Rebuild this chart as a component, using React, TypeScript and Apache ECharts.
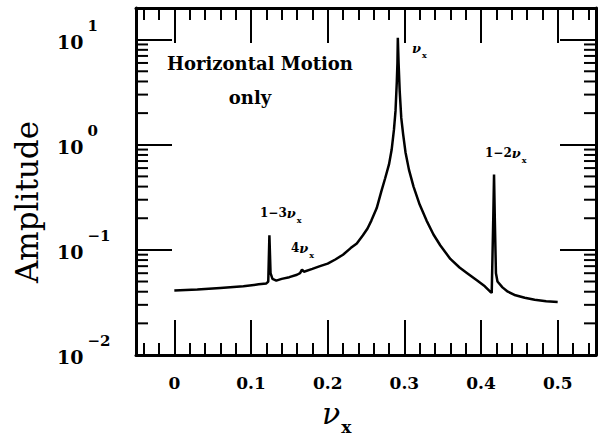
import React, { useEffect, useRef } from "react";
import * as echarts from "echarts";

// ---- data ----
const NU_X: number[] = [
  0.0, 0.03, 0.06, 0.09, 0.11, 0.12, 0.1225, 0.124, 0.1255, 0.128, 0.133,
  0.14, 0.15, 0.16, 0.164, 0.1665, 0.169, 0.18, 0.19, 0.2, 0.21, 0.22, 0.23,
  0.238, 0.246, 0.252, 0.257, 0.264, 0.27, 0.275, 0.28, 0.2835, 0.2865,
  0.2885, 0.2902, 0.291, 0.2915, 0.2925, 0.294, 0.296, 0.2985, 0.3015, 0.306,
  0.312, 0.32, 0.329, 0.338, 0.347, 0.36, 0.372, 0.382, 0.395, 0.405, 0.412,
  0.414, 0.416, 0.417, 0.418, 0.4195, 0.4215, 0.428, 0.435, 0.445, 0.457,
  0.47, 0.485, 0.5,
];
const AMPLITUDE: number[] = [
  0.041, 0.042, 0.0435, 0.045, 0.047, 0.048, 0.05, 0.138, 0.06, 0.053, 0.051,
  0.053, 0.055, 0.058, 0.06, 0.065, 0.062, 0.066, 0.07, 0.074, 0.081, 0.09,
  0.104, 0.115, 0.138, 0.16, 0.19, 0.25, 0.36, 0.48, 0.65, 0.9, 1.4, 2.1, 4.0,
  6.0, 10.4, 6.0, 3.2, 1.8, 1.25, 0.85, 0.58, 0.4, 0.27, 0.19, 0.14, 0.11,
  0.082, 0.068, 0.06, 0.051, 0.045, 0.04, 0.039, 0.2, 0.52, 0.2, 0.06, 0.05,
  0.044, 0.04, 0.037, 0.035, 0.0335, 0.0325, 0.032,
];

// axis ranges and tick definitions
const X_MIN = -0.05;
const X_MAX = 0.55;
const Y_MIN = 0.01;
const Y_MAX = 20;
const LOG_DECADES: number[] = [0.01, 0.1, 1, 10];
const LOG_MINOR_MULTIPLIERS: number[] = [2, 3, 4, 5, 6, 7, 8, 9];

// annotations
const PANEL_TITLE = "Horizontal Motion";
const PANEL_SUBTITLE = "only";
const Y_TITLE = "Amplitude";

const FONT = "DejaVu Serif";

// layout
const GRID = { left: 136, right: 3, top: 8, bottom: 92 };
const CHART_W = 599;
const CHART_H = 447;
const MINOR_TICK_PX = 12;

export default function App() {
  const ref = useRef<HTMLDivElement | null>(null);

  useEffect(() => {
    document.body.style.margin = "0";
    if (!ref.current) return;
    const chart = echarts.init(ref.current, undefined, { renderer: "svg" });

    const lineData = NU_X.map((x, i) => [x, AMPLITUDE[i]]);

    const minorValues: number[] = [];
    LOG_DECADES.forEach((d) =>
      LOG_MINOR_MULTIPLIERS.forEach((m) => {
        const v = d * m;
        if (v < Y_MAX) minorValues.push(v);
      })
    );
    // tick length expressed in x-data units
    const plotW = CHART_W - GRID.left - GRID.right;
    const dx = (MINOR_TICK_PX / plotW) * (X_MAX - X_MIN);

    const tickStyle = { color: "#000", width: 2 };
    const axisLineStyle = { color: "#000", width: 3 };

    const minorTickSeries: any[] = [];
    minorValues.forEach((v) => {
      minorTickSeries.push({
        type: "line",
        data: [[X_MIN, v], [X_MIN + dx, v]],
        symbol: "none",
        showSymbol: false,
        silent: true,
        lineStyle: { color: "#000", width: 2 },
      });
      minorTickSeries.push({
        type: "line",
        data: [[X_MAX - dx, v], [X_MAX, v]],
        symbol: "none",
        showSymbol: false,
        silent: true,
        lineStyle: { color: "#000", width: 2 },
      });
    });

    const smallRich = {
      n: { fontFamily: FONT, fontSize: 12, fontWeight: "bold", fill: "#000", lineHeight: 14, padding: [0, 0, 4, 0] },
      v: { fontFamily: FONT, fontSize: 13, fontWeight: "bold", fontStyle: "italic", fill: "#000", lineHeight: 14, padding: [0, 0, 4, 0] },
      s: { fontFamily: FONT, fontSize: 8, fontWeight: "bold", fill: "#000", lineHeight: 8, padding: [10, 0, 0, 1] },
    };

    const option: any = {
      animation: false,
      grid: { ...GRID },
      xAxis: [
        {
          type: "value",
          position: "bottom",
          min: X_MIN,
          max: X_MAX,
          axisLine: { onZero: false, lineStyle: axisLineStyle },
          axisTick: { inside: true, length: 35, lineStyle: tickStyle },
          minorTick: { show: true, splitNumber: 5, length: 12, lineStyle: tickStyle },
          splitLine: { show: false },
          minorSplitLine: { show: false },
          axisLabel: {
            margin: 18,
            fontFamily: FONT,
            fontSize: 17,
            fontWeight: "bold",
            color: "#000",
            lineHeight: 20,
            formatter: (v: number) =>
              Math.abs(v * 10 - Math.round(v * 10)) < 1e-6 ? String(Math.round(v * 10) / 10) : "",
          },
        },
        {
          type: "value",
          position: "top",
          min: X_MIN,
          max: X_MAX,
          axisLine: { onZero: false, lineStyle: axisLineStyle },
          axisTick: { inside: true, length: 35, lineStyle: tickStyle },
          minorTick: { show: true, splitNumber: 5, length: 12, lineStyle: tickStyle },
          splitLine: { show: false },
          minorSplitLine: { show: false },
          axisLabel: { show: false },
        },
      ],
      yAxis: [
        {
          type: "log",
          position: "left",
          min: Y_MIN,
          max: Y_MAX,
          axisLine: { onZero: false, lineStyle: axisLineStyle },
          axisTick: { inside: true, length: 36, lineStyle: tickStyle },
          splitLine: { show: false },
          axisLabel: {
            align: "left",
            margin: 79,
            formatter: (v: number) => {
              const e = Math.log10(v);
              const r = Math.round(e);
              if (Math.abs(e - r) > 1e-6) return "";
              return `{b|10}{s|${r < 0 ? "\u2212" + -r : r}}`;
            },
            rich: {
              b: { fontFamily: FONT, fontSize: 19, fontWeight: "bold", color: "#000", lineHeight: 20, padding: [10, 0, 6, 0] },
              s: { fontFamily: FONT, fontSize: 15, fontWeight: "bold", color: "#000", lineHeight: 8, padding: [0, 0, 28, 4] },
            },
          },
        },
        {
          type: "log",
          position: "right",
          min: Y_MIN,
          max: Y_MAX,
          axisLine: { onZero: false, lineStyle: axisLineStyle },
          axisTick: { inside: true, length: 36, lineStyle: tickStyle },
          splitLine: { show: false },
          axisLabel: { show: false },
        },
      ],
      series: [
        {
          type: "line",
          data: lineData,
          showSymbol: false,
          symbol: "none",
          lineStyle: { color: "#000", width: 2.5 },
        },
        ...minorTickSeries,
      ],
      graphic: [
        {
          type: "text",
          x: 167,
          y: 63,
          style: { text: PANEL_TITLE, fontFamily: FONT, fontSize: 18, fontWeight: "bold", fill: "#000", verticalAlign: "middle", align: "left" },
        },
        {
          type: "text",
          x: 250,
          y: 97,
          style: { text: PANEL_SUBTITLE, fontFamily: FONT, fontSize: 18, fontWeight: "bold", fill: "#000", verticalAlign: "middle", align: "center" },
        },
        {
          type: "text",
          x: 412,
          y: 43,
          style: { text: "{v|ν}{s|x}", rich: smallRich, verticalAlign: "top", align: "left" },
        },
        {
          type: "text",
          x: 260,
          y: 208,
          style: { text: "{n|1\u22123}{v|ν}{s|x}", rich: smallRich, verticalAlign: "top", align: "left" },
        },
        {
          type: "text",
          x: 291,
          y: 243,
          style: { text: "{n|4}{v|ν}{s|x}", rich: smallRich, verticalAlign: "top", align: "left" },
        },
        {
          type: "text",
          x: 485,
          y: 148,
          style: { text: "{n|1\u22122}{v|ν}{s|x}", rich: smallRich, verticalAlign: "top", align: "left" },
        },
        {
          type: "text",
          x: 322,
          y: 403,
          style: {
            text: "{v|ν}{s|x}",
            verticalAlign: "top",
            align: "left",
            rich: {
              v: { fontFamily: FONT, fontSize: 30, fontStyle: "italic", fill: "#000", lineHeight: 30, padding: [0, 0, 10, 0] },
              s: { fontFamily: FONT, fontSize: 17, fontWeight: "bold", fill: "#000", lineHeight: 18, padding: [20, 0, 2, 1] },
            },
          },
        },
        {
          type: "text",
          x: 27,
          y: 202,
          rotation: Math.PI / 2,
          style: { text: Y_TITLE, fontFamily: FONT, fontSize: 31, fill: "#000", verticalAlign: "middle", align: "center" },
        },
      ],
    };

    chart.setOption(option);
    return () => chart.dispose();
  }, []);

  return <div ref={ref} style={{ width: CHART_W, height: CHART_H }} />;
}
